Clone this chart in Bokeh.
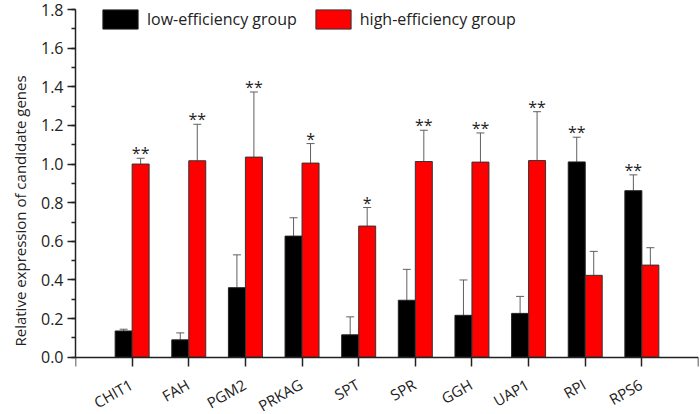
from bokeh.plotting import figure
from bokeh.models import (Range1d, FixedTicker, SingleIntervalTicker, Whisker,
                          ColumnDataSource, TeeHead, Legend, LegendItem,
                          PrintfTickFormatter)
from bokeh.core.properties import value
from bokeh.embed import file_html
from bokeh.resources import INLINE

genes = ["CHIT1", "FAH", "PGM2", "PRKAG", "SPT", "SPR", "GGH", "UAP1", "RPI", "RPS6"]
low = [0.136, 0.090, 0.360, 0.627, 0.116, 0.295, 0.217, 0.227, 1.011, 0.862]
low_err = [0.009, 0.036, 0.170, 0.095, 0.093, 0.160, 0.183, 0.088, 0.128, 0.082]
high = [1.000, 1.017, 1.036, 1.005, 0.679, 1.013, 1.010, 1.018, 0.424, 0.477]
high_err = [0.030, 0.189, 0.337, 0.101, 0.096, 0.162, 0.151, 0.253, 0.124, 0.090]
sig = ["**", "**", "**", "*", "*", "**", "**", "**", "**", "**"]
sig_group = ["high", "high", "high", "high", "high", "high", "high", "high", "low", "low"]

FONT = "Open Sans"
pos = list(range(1, len(genes) + 1))
off = 0.15

src_low = ColumnDataSource(dict(x=[p_ - off for p_ in pos], top=low,
                                upper=[v + e for v, e in zip(low, low_err)]))
src_high = ColumnDataSource(dict(x=[p_ + off for p_ in pos], top=high,
                                 upper=[v + e for v, e in zip(high, high_err)]))

p = figure(width=700, height=414, output_backend="svg", toolbar_location=None,
           x_axis_location="above",
           x_range=Range1d(0, len(genes) + 1), y_range=Range1d(-0.286, 1.8),
           min_border_left=75, min_border_right=2, min_border_top=9, min_border_bottom=2)
p.outline_line_color = None
p.grid.grid_line_color = None

r_low = p.vbar(x="x", top="top", width=0.3, source=src_low,
               fill_color="black", line_color="#222222", line_width=1)
r_high = p.vbar(x="x", top="top", width=0.3, source=src_high,
                fill_color="#ff0000", line_color="#333333", line_width=1)

for src in (src_low, src_high):
    w = Whisker(source=src, base="x", lower="top", upper="upper",
                line_color="#606060", line_width=1,
                upper_head=TeeHead(size=8, line_color="#606060", line_width=1),
                lower_head=None)
    p.add_layout(w)

# significance stars
sx, sy = [], []
for i, g in enumerate(sig_group):
    if g == "high":
        sx.append(pos[i] + off)
        sy.append(high[i] + high_err[i])
    else:
        sx.append(pos[i] - off)
        sy.append(low[i] + low_err[i])
p.text(x=sx, y=sy, text=sig, text_font=value(FONT), text_font_size="16px",
       text_align="center", text_baseline="alphabetic", text_color="#222222", y_offset=-5)

# category labels, rotated
p.text(x=pos, y=[0] * len(pos), text=genes, angle=0.52, text_align="right",
       text_baseline="top", x_offset=-6, y_offset=17, text_font=value(FONT),
       text_font_size="15px", text_color="#222222")

# x axis drawn at y = 0, ticks pointing down
xa = p.xaxis[0]
xa.fixed_location = 0
xa.ticker = FixedTicker(ticks=[0] + pos + [len(genes) + 1])
xa.major_label_text_font_size = "0px"
xa.major_label_overrides = {t: "" for t in [0] + pos + [len(genes) + 1]}
xa.major_label_standoff = 0
xa.major_tick_out = 0
xa.major_tick_in = 9
xa.minor_tick_line_color = None
xa.axis_line_width = 1.5
xa.axis_line_color = "#222222"
xa.major_tick_line_width = 1.5
xa.major_tick_line_color = "#222222"

ya = p.yaxis[0]
ya.bounds = (0, 1.8)
ya.ticker = SingleIntervalTicker(interval=0.2, num_minor_ticks=2)
ya.formatter = PrintfTickFormatter(format="%.1f")
ya.major_tick_out = 8
ya.major_tick_in = 0
ya.minor_tick_out = 4
ya.minor_tick_in = 0
ya.major_label_text_font = FONT
ya.major_label_text_font_size = "16px"
ya.major_label_text_color = "#222222"
ya.axis_line_width = 1.5
ya.axis_line_color = "#222222"
ya.major_tick_line_width = 1.5
ya.minor_tick_line_width = 1.5
ya.major_tick_line_color = "#222222"
ya.minor_tick_line_color = "#222222"
ya.axis_label = "Relative expression of candidate genes"
ya.axis_label_text_font = FONT
ya.axis_label_text_font_size = "15px"
ya.axis_label_text_font_style = "normal"
ya.axis_label_text_color = "#222222"
ya.axis_label_standoff = 8
ya.major_label_standoff = 4

legend = Legend(items=[LegendItem(label="low-efficiency group", renderers=[r_low]),
                       LegendItem(label="high-efficiency group", renderers=[r_high])],
                orientation="horizontal", location=(23, 381),
                glyph_width=44, glyph_height=24, label_standoff=5, spacing=14,
                padding=0, margin=0, border_line_color=None, background_fill_alpha=0,
                label_text_font=FONT, label_text_font_size="16px", label_text_color="#222222")
p.add_layout(legend, "center")

open("out.html", "w").write(file_html(p, INLINE))
